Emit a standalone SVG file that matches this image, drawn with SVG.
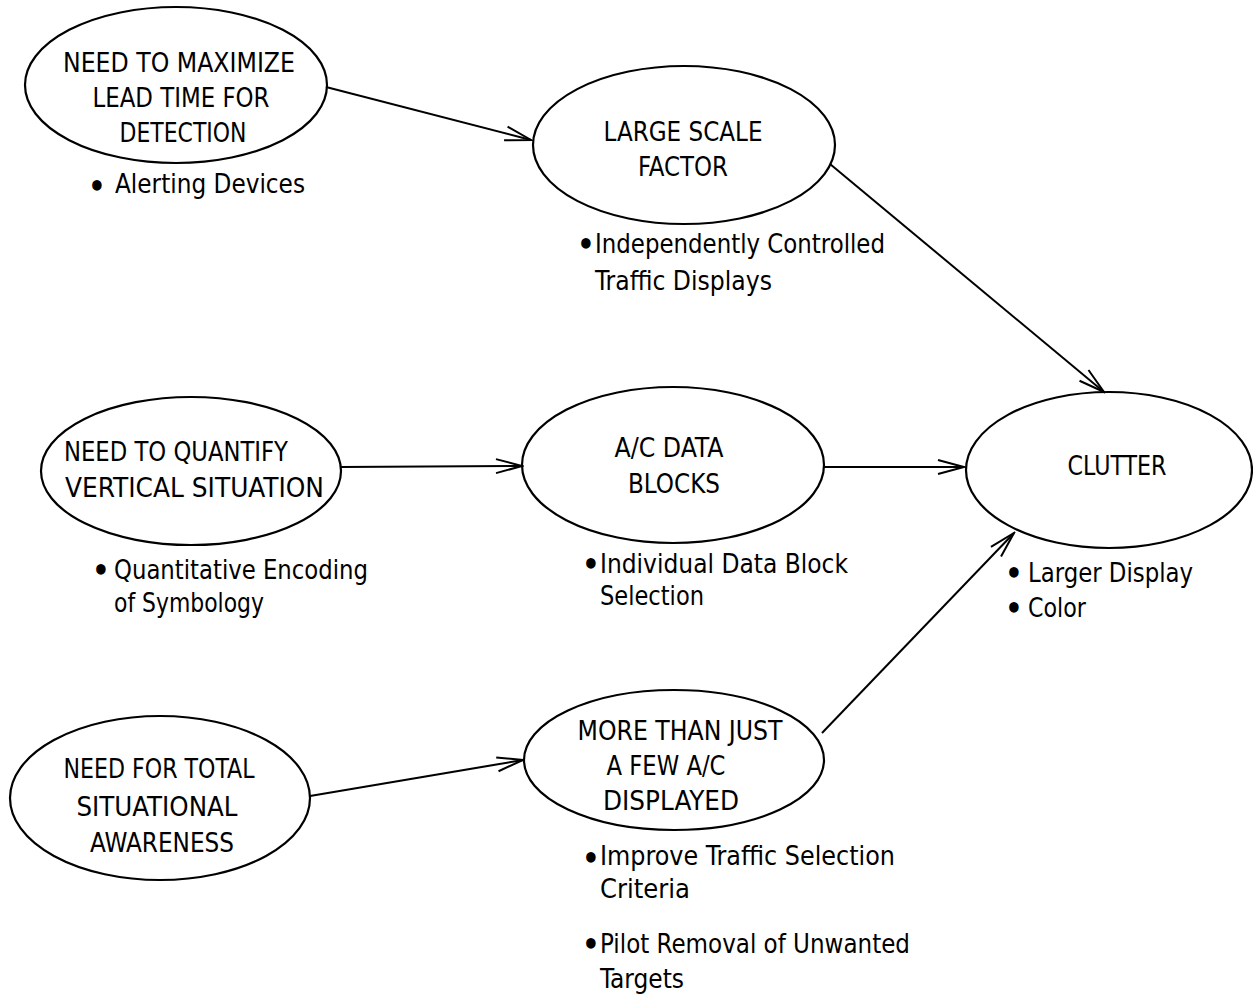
<svg xmlns="http://www.w3.org/2000/svg" width="1253" height="996" viewBox="0 0 1253 996">
<style>
.node ellipse{fill:none;stroke:#000;stroke-width:2.2}
text{font-family:"Liberation Sans Narrow","DejaVu Sans Condensed","Liberation Sans",sans-serif;font-size:26px;fill:#000}
.c{text-anchor:middle}
.b{text-anchor:middle;font-size:30px;font-weight:bold}
#connectors line{stroke:#000;stroke-width:2;fill:none}
</style>
<defs>
<marker id="arr" markerUnits="userSpaceOnUse" markerWidth="30" markerHeight="18" viewBox="0 0 30 18" refX="28" refY="9" orient="auto">
<path d="M2,2 L28,9 L2,16" fill="none" stroke="#000" stroke-width="2"/>
</marker>
</defs>
<rect width="1253" height="996" fill="#fff"/>
<g id="connectors">
<line x1="326" y1="87" x2="531" y2="140" marker-end="url(#arr)"/>
<line x1="830" y1="164" x2="1104" y2="392" marker-end="url(#arr)"/>
<line x1="341" y1="467" x2="522" y2="466" marker-end="url(#arr)"/>
<line x1="824" y1="467" x2="964" y2="467" marker-end="url(#arr)"/>
<line x1="310" y1="796" x2="523" y2="760" marker-end="url(#arr)"/>
<line x1="822" y1="733" x2="1014" y2="533" marker-end="url(#arr)"/>
</g>
<g id="n1" class="node">
<ellipse cx="176" cy="85" rx="151" ry="78"/>
<text class="c" x="179" y="72" textLength="232" lengthAdjust="spacingAndGlyphs">NEED TO MAXIMIZE</text>
<text class="c" x="181" y="107" textLength="177" lengthAdjust="spacingAndGlyphs">LEAD TIME FOR</text>
<text class="c" x="183" y="142" textLength="127" lengthAdjust="spacingAndGlyphs">DETECTION</text>
<text class="b" x="97" y="197">•</text>
<text x="115" y="193" textLength="190" lengthAdjust="spacingAndGlyphs">Alerting Devices</text>
</g>
<g id="n2" class="node">
<ellipse cx="684" cy="145" rx="151" ry="79"/>
<text class="c" x="683" y="141" textLength="159" lengthAdjust="spacingAndGlyphs">LARGE SCALE</text>
<text class="c" x="683" y="176" textLength="90" lengthAdjust="spacingAndGlyphs">FACTOR</text>
<text class="b" x="586" y="255">•</text>
<text x="595" y="253" textLength="290" lengthAdjust="spacingAndGlyphs">Independently Controlled</text>
<text x="595" y="290" textLength="177" lengthAdjust="spacingAndGlyphs">Traffic Displays</text>
</g>
<g id="n3" class="node">
<ellipse cx="191" cy="471" rx="150" ry="74"/>
<text x="64" y="461" textLength="224" lengthAdjust="spacingAndGlyphs">NEED TO QUANTIFY</text>
<text x="65" y="497" textLength="259" lengthAdjust="spacingAndGlyphs">VERTICAL SITUATION</text>
<text class="b" x="101" y="581">•</text>
<text x="114" y="579" textLength="254" lengthAdjust="spacingAndGlyphs">Quantitative Encoding</text>
<text x="114" y="612" textLength="150" lengthAdjust="spacingAndGlyphs">of Symbology</text>
</g>
<g id="n4" class="node">
<ellipse cx="673" cy="465" rx="151" ry="78"/>
<text class="c" x="669" y="457" textLength="109" lengthAdjust="spacingAndGlyphs">A/C DATA</text>
<text class="c" x="674" y="493" textLength="92" lengthAdjust="spacingAndGlyphs">BLOCKS</text>
<text class="b" x="591" y="575">•</text>
<text x="600" y="573" textLength="248" lengthAdjust="spacingAndGlyphs">Individual Data Block</text>
<text x="600" y="605" textLength="104" lengthAdjust="spacingAndGlyphs">Selection</text>
</g>
<g id="n5" class="node">
<ellipse cx="1109" cy="470" rx="143" ry="78"/>
<text class="c" x="1117" y="475" textLength="99" lengthAdjust="spacingAndGlyphs">CLUTTER</text>
<text class="b" x="1014" y="584">•</text>
<text x="1028" y="582" textLength="165" lengthAdjust="spacingAndGlyphs">Larger Display</text>
<text class="b" x="1014" y="619">•</text>
<text x="1028" y="617" textLength="58" lengthAdjust="spacingAndGlyphs">Color</text>
</g>
<g id="n6" class="node">
<ellipse cx="160" cy="798" rx="150" ry="82"/>
<text class="c" x="159" y="778" textLength="191" lengthAdjust="spacingAndGlyphs">NEED FOR TOTAL</text>
<text class="c" x="157" y="816" textLength="161" lengthAdjust="spacingAndGlyphs">SITUATIONAL</text>
<text class="c" x="162" y="852" textLength="144" lengthAdjust="spacingAndGlyphs">AWARENESS</text>
</g>
<g id="n7" class="node">
<ellipse cx="674" cy="760" rx="150" ry="70"/>
<text class="c" x="680" y="740" textLength="205" lengthAdjust="spacingAndGlyphs">MORE THAN JUST</text>
<text class="c" x="666" y="775" textLength="119" lengthAdjust="spacingAndGlyphs">A FEW A/C</text>
<text class="c" x="671" y="810" textLength="136" lengthAdjust="spacingAndGlyphs">DISPLAYED</text>
<text class="b" x="591" y="869">•</text>
<text x="600" y="865" textLength="295" lengthAdjust="spacingAndGlyphs">Improve Traffic Selection</text>
<text x="600" y="898" textLength="90" lengthAdjust="spacingAndGlyphs">Criteria</text>
<text class="b" x="591" y="955">•</text>
<text x="600" y="953" textLength="310" lengthAdjust="spacingAndGlyphs">Pilot Removal of Unwanted</text>
<text x="600" y="988" textLength="84" lengthAdjust="spacingAndGlyphs">Targets</text>
</g>
</svg>
